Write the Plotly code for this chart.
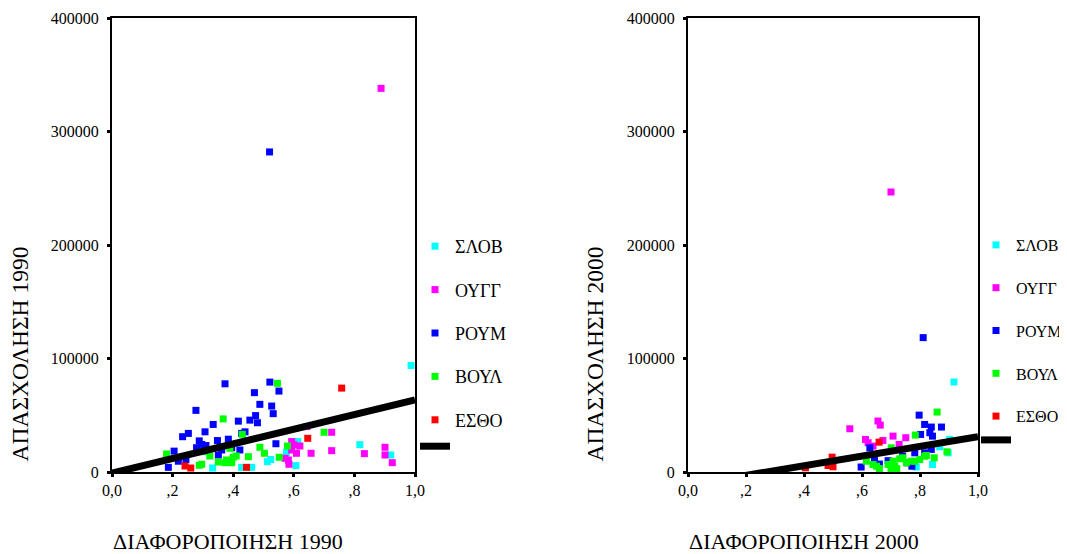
import plotly.graph_objects as go

# ---------------- DATA ----------------
groups = ["ΣΛΟΒ", "ΟΥΓΓ", "ΡΟΥΜ", "ΒΟΥΛ", "ΕΣΘΟ"]
colors = ["#00FFFF", "#FF00FF", "#0000FF", "#00FF00", "#FF0000"]

# 1990 (left panel)
slov_x_90 = [0.987, 0.818, 0.92, 0.607, 0.613, 0.332, 0.461, 0.428, 0.513, 0.524, 0.576]
slov_y_90 = [93800, 24100, 15000, 5600, 26800, 3500, 4100, 4100, 9100, 11000, 17400]
oygg_x_90 = [0.888, 0.725, 0.725, 0.833, 0.901, 0.901, 0.925, 0.657, 0.593, 0.62, 0.593, 0.609, 0.582, 0.584, 0.571, 0.643, 0.60]
oygg_y_90 = [338000, 35000, 18800, 16200, 21800, 15000, 8200, 16500, 26800, 22900, 19400, 16500, 10600, 6800, 12100, 40000, 24000]
roym_x_90 = [0.373, 0.521, 0.551, 0.470, 0.277, 0.488, 0.527, 0.532, 0.474, 0.480, 0.455, 0.417, 0.334, 0.307,
             0.252, 0.233, 0.439, 0.428, 0.384, 0.348, 0.288, 0.541, 0.205, 0.186, 0.244, 0.279, 0.296, 0.31,
             0.351, 0.362, 0.422, 0.395, 0.219, 0.52]
roym_y_90 = [77700, 79200, 71300, 69900, 54300, 59600, 58100, 51400, 49700, 43400, 45700, 44800, 41900, 35400,
             34000, 31100, 35400, 34000, 28900, 27700, 27400, 24900, 18400, 4100, 11000, 21400, 24300, 23300,
             15000, 19400, 19400, 21400, 9500, 282000]
voyl_x_90 = [0.546, 0.367, 0.43, 0.18, 0.288, 0.296, 0.323, 0.351, 0.378, 0.40, 0.41, 0.45, 0.488, 0.503,
             0.552, 0.579, 0.70, 0.389, 0.301, 0.373, 0.395]
voyl_y_90 = [78100, 46800, 33200, 15900, 5900, 6800, 14100, 8800, 10600, 13000, 14100, 13500, 21800, 16500,
             13000, 22900, 35000, 20900, 17900, 8200, 8200]
esth_x_90 = [0.241, 0.26, 0.444, 0.758, 0.646]
esth_y_90 = [5300, 3500, 4100, 73900, 29700]

# 2000 (right panel)
slov_x_00 = [0.917, 0.902, 0.868, 0.843, 0.787, 0.897]
slov_y_00 = [79300, 28700, 22200, 6600, 4400, 16900]
oygg_x_00 = [0.70, 0.558, 0.655, 0.663, 0.707, 0.751, 0.612, 0.621, 0.672, 0.728, 0.638]
oygg_y_00 = [246700, 38100, 44900, 41300, 31600, 30200, 28700, 25800, 27800, 24300, 22800]
roym_x_00 = [0.811, 0.797, 0.816, 0.839, 0.874, 0.802, 0.834, 0.843, 0.627, 0.782, 0.816, 0.839, 0.643,
             0.597, 0.718, 0.758, 0.772, 0.74, 0.69, 0.66]
roym_y_00 = [118400, 50100, 41900, 39600, 39600, 33100, 34600, 31600, 21300, 16900, 16900, 19900, 11000,
             4400, 1600, 8100, 5100, 14000, 10000, 7000]
voyl_x_00 = [0.859, 0.784, 0.893, 0.849, 0.816, 0.782, 0.753, 0.73, 0.707, 0.69, 0.713, 0.65, 0.615, 0.741,
             0.799, 0.822, 0.701, 0.638, 0.77, 0.66, 0.72, 0.70]
voyl_y_00 = [52800, 32500, 17800, 12500, 13900, 9500, 8100, 11600, 9500, 6600, 5100, 5100, 9500, 12500,
             11000, 14600, 21300, 6600, 9500, 3000, 3000, 2500]
esth_x_00 = [0.659, 0.497, 0.483, 0.50, 0.405]
esth_y_00 = [26300, 13100, 5700, 4600, 3700]

# fitted lines (intercept, slope)
fit_90 = (-1000, 64500)
fit_00 = (-11466, 42466)
fit_x = [0.0, 1.0]

x_tickvals = [0.0, 0.2, 0.4, 0.6, 0.8, 1.0]
x_ticktext = ["0,0", ",2", ",4", ",6", ",8", "1,0"]
y_tickvals = [0, 100000, 200000, 300000, 400000]
y_ticktext = ["0", "100000", "200000", "300000", "400000"]

# ---------------- FIGURE ----------------
FONT = "Liberation Serif, Times New Roman, serif"
# the page body has an 8px margin: the figure is sized/placed so it fills the window
OFF = 8
W, H = 1067 - OFF, 554 - OFF


def PX(px):
    return (px - OFF) / W


def PY(py):
    return 1 - (py - OFF) / H


fig = go.Figure()

panels = [
    ("x", "y", "legend", "L",
     [(slov_x_90, slov_y_90), (oygg_x_90, oygg_y_90), (roym_x_90, roym_y_90), (voyl_x_90, voyl_y_90), (esth_x_90, esth_y_90)],
     fit_90),
    ("x2", "y2", "legend2", "R",
     [(slov_x_00, slov_y_00), (oygg_x_00, oygg_y_00), (roym_x_00, roym_y_00), (voyl_x_00, voyl_y_00), (esth_x_00, esth_y_00)],
     fit_00),
]

for xa, ya, leg, pref, series, fit in panels:
    for i, (name, col, (xs, ys)) in enumerate(zip(groups, colors, series)):
        fig.add_trace(go.Scatter(
            x=xs, y=ys, mode="markers", name=name,
            marker=dict(symbol="square", size=7, color=col, line=dict(width=0)),
            xaxis=xa, yaxis=ya, legend=leg,
            legendgroup=f"{pref}{min(i, 4)}", showlegend=True))
    b, m = fit
    fig.add_trace(go.Scatter(
        x=fit_x, y=[b + m * v for v in fit_x], mode="lines", name="",
        line=dict(color="black", width=7),
        xaxis=xa, yaxis=ya, legend=leg, legendgroup=f"{pref}4", showlegend=True))

ydom = [PY(472), PY(18)]
axis_common = dict(showline=True, linecolor="black", linewidth=2, mirror=True,
                   ticks="outside", ticklen=3, tickwidth=3, tickcolor="black",
                   showgrid=False, zeroline=False, automargin=False,
                   tickfont=dict(family=FONT, size=16, color="black"))


def leg_opts(x, size, gap):
    return dict(x=x, y=PY(228), xanchor="left", yanchor="top",
                font=dict(family=FONT, size=size, color="black"),
                tracegroupgap=gap, traceorder="grouped", bgcolor="rgba(0,0,0,0)",
                borderwidth=0)


fig.update_layout(
    width=W, height=H,
    margin=dict(l=0, r=0, t=0, b=0, pad=0, autoexpand=False),
    paper_bgcolor="white", plot_bgcolor="white",
    font=dict(family=FONT, color="black"),
    xaxis=dict(domain=[PX(112), PX(415)], range=[0, 1], anchor="y",
               tickvals=x_tickvals, ticktext=x_ticktext, **axis_common),
    yaxis=dict(domain=ydom, range=[0, 400000], anchor="x", ticklabelstandoff=5,
               tickvals=y_tickvals, ticktext=y_ticktext, **axis_common),
    xaxis2=dict(domain=[PX(688), PX(978)], range=[0, 1], anchor="y2",
                tickvals=x_tickvals, ticktext=x_ticktext, **axis_common),
    yaxis2=dict(domain=ydom, range=[0, 400000], anchor="x2", ticklabelstandoff=5,
                tickvals=y_tickvals, ticktext=y_ticktext, **axis_common),
    legend=leg_opts(PX(415), 18, 17),
    legend2=leg_opts(PX(976), 16, 19),
    showlegend=True,
)

titles = [
    dict(text="ΔΙΑΦΟΡΟΠΟΙΗΣΗ 1990", x=PX(112), y=PY(541), xanchor="left", yanchor="middle", textangle=0, size=22),
    dict(text="ΔΙΑΦΟΡΟΠΟΙΗΣΗ 2000", x=PX(688), y=PY(541), xanchor="left", yanchor="middle", textangle=0, size=22),
    dict(text="ΑΠΑΣΧΟΛΗΣΗ 1990", x=PX(19), y=PY(463), xanchor="center", yanchor="bottom", textangle=-90, size=23.5),
    dict(text="ΑΠΑΣΧΟΛΗΣΗ 2000", x=PX(594), y=PY(463), xanchor="center", yanchor="bottom", textangle=-90, size=23.5),
]
for t in titles:
    size = t.pop("size")
    fig.add_annotation(xref="paper", yref="paper", showarrow=False, borderpad=0,
                       font=dict(family=FONT, size=size, color="black"), **t)

fig.write_html("out.html")
